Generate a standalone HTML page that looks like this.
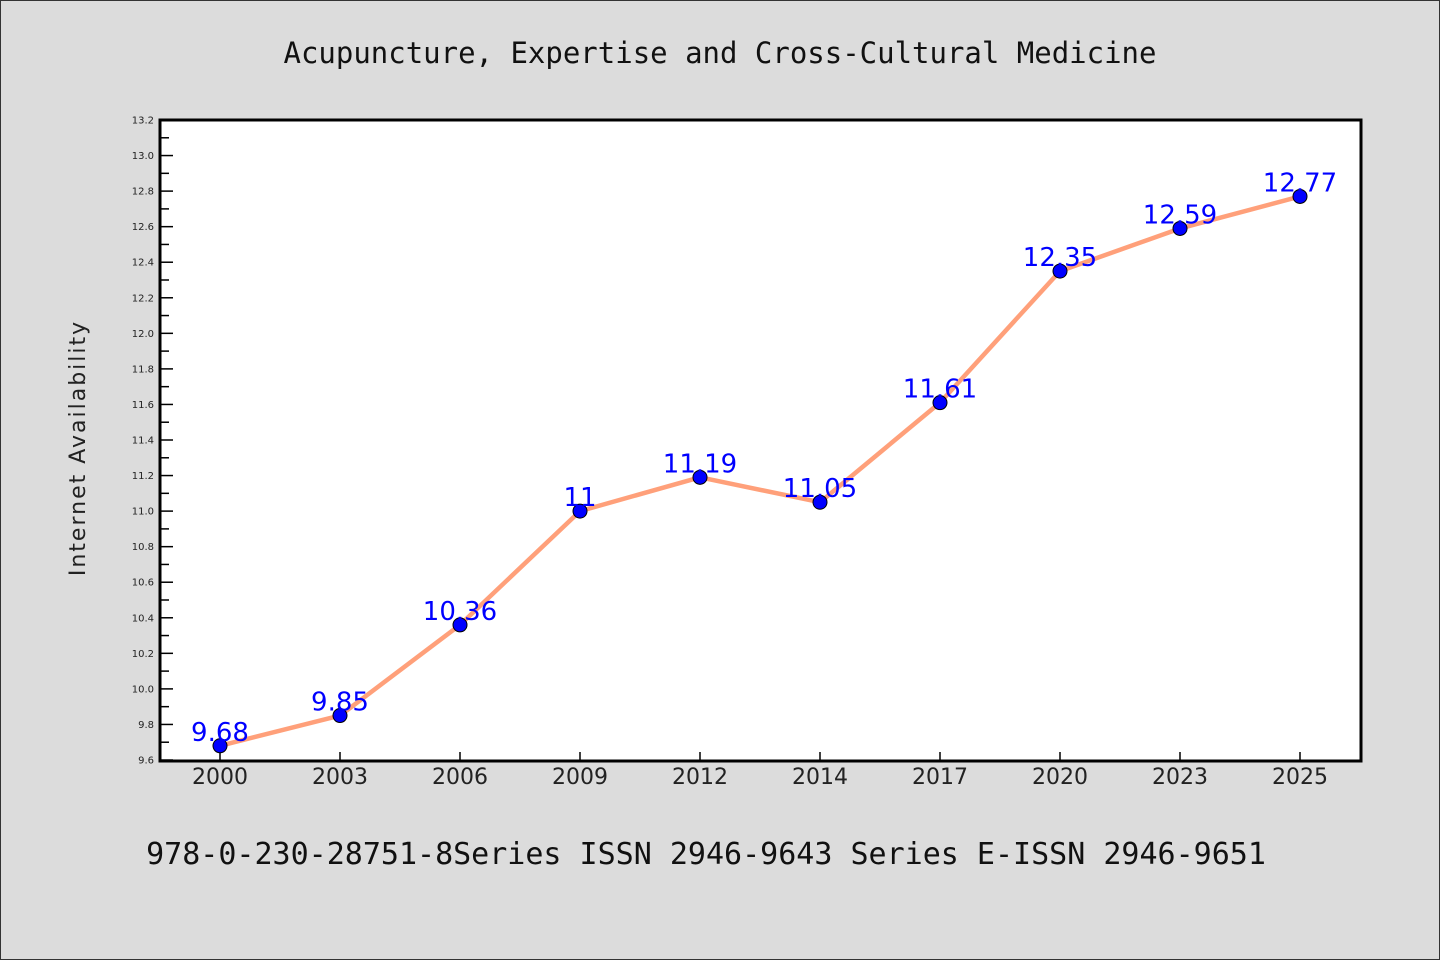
<!DOCTYPE html>
<html><head><meta charset="utf-8"><style>
html,body{margin:0;padding:0;background:#dcdcdc}
svg{display:block}
</style></head><body>
<svg width="1440" height="960" xmlns="http://www.w3.org/2000/svg">
<rect x="0.5" y="0.5" width="1439" height="959" fill="#dcdcdc" stroke="#333"/>
<text x="720" y="63" text-anchor="middle" font-family="'DejaVu Sans Mono','Liberation Mono',monospace" font-size="29" fill="#111">Acupuncture, Expertise and Cross-Cultural Medicine</text>
<rect x="160" y="120" width="1201" height="641" fill="#fff"/>
<g id="yaxis"></g>
<g id="xaxis"></g>
<g id="series"></g>
<rect x="160" y="120" width="1201" height="641" fill="none" stroke="#000" stroke-width="3"/>
<text transform="translate(85,448) rotate(-90)" text-anchor="middle" font-family="'DejaVu Sans','Liberation Sans',sans-serif" font-size="22" letter-spacing="2" fill="#222">Internet Availability</text>
<text x="706" y="864" text-anchor="middle" font-family="'DejaVu Sans Mono','Liberation Mono',monospace" font-size="30" fill="#111">978-0-230-28751-8Series ISSN 2946-9643 Series E-ISSN 2946-9651</text>
</svg>
<script>
const categories=["2000","2003","2006","2009","2012","2014","2017","2020","2023","2025"];
const values=[9.68,9.85,10.36,11,11.19,11.05,11.61,12.35,12.59,12.77];
const valueLabels=["9.68","9.85","10.36","11","11.19","11.05","11.61","12.35","12.59","12.77"];
const yTicks=[9.6,9.8,10.0,10.2,10.4,10.6,10.8,11.0,11.2,11.4,11.6,11.8,12.0,12.2,12.4,12.6,12.8,13.0,13.2];
const NS="http://www.w3.org/2000/svg";
const L=160,R=1360,T=120,B=760,ymin=9.6,ymax=13.2;
const y=v=>B-(v-ymin)/(ymax-ymin)*(B-T);
const x=i=>L+(R-L)/categories.length*(i+0.5);
function mk(t,a,p){const e=document.createElementNS(NS,t);for(const k in a)e.setAttribute(k,a[k]);p.appendChild(e);return e;}
const ya=document.getElementById('yaxis');
yTicks.forEach((v,i)=>{
 const t=mk('line',{x1:L,x2:L+13,y1:y(v),y2:y(v),stroke:'#000','stroke-width':1.5},ya);
 
 
 if(i<yTicks.length-1){const m=mk('line',{x1:L,x2:L+9,y1:y(v+0.1),y2:y(v+0.1),stroke:'#000','stroke-width':1.5},ya);
 
 }
 const tx=mk('text',{x:L-6,y:y(v)+3.5,'text-anchor':'end','font-family':"'DejaVu Sans','Liberation Sans',sans-serif",'font-size':10,fill:'#222'},ya);
 tx.textContent=v.toFixed(1);
 
 
});
const xa=document.getElementById('xaxis');
categories.forEach((c,i)=>{
 const t=mk('line',{x1:x(i),x2:x(i),y1:B-8,y2:B,stroke:'#000','stroke-width':1.5},xa);
 
 
 const tx=mk('text',{x:x(i),y:784,'text-anchor':'middle','font-family':"'DejaVu Sans','Liberation Sans',sans-serif",'font-size':22,fill:'#222'},xa);
 tx.textContent=c;
 
 
});
const s=document.getElementById('series');
const pl=mk('polyline',{points:values.map((v,i)=>x(i)+','+y(v)).join(' '),fill:'none',stroke:'#ffa07a','stroke-width':4.5,'stroke-linejoin':'round'},s);


values.forEach((v,i)=>{
 const c=mk('circle',{cx:x(i),cy:y(v),r:7,fill:'#0000ff',stroke:'#000','stroke-width':1},s);
 
 
});
values.forEach((v,i)=>{
 const tx=mk('text',{x:x(i),y:y(v)-5,'text-anchor':'middle','font-family':"'DejaVu Sans','Liberation Sans',sans-serif",'font-size':26,fill:'#0000ff'},s);
 tx.textContent=valueLabels[i];
 
 
});
</script>
</body></html>
